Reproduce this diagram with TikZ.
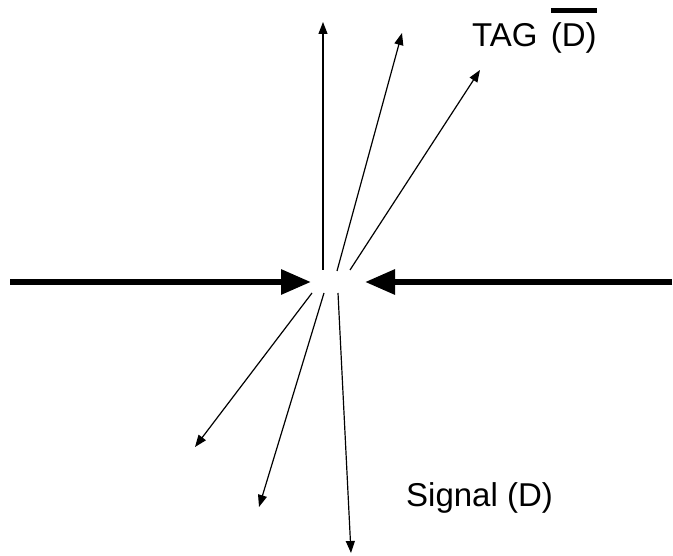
\documentclass[tikz,border=0pt]{standalone}
\usepackage{fontspec}
\setmainfont{Liberation Sans}
\usepackage{tikz}
\usetikzlibrary{arrows.meta, positioning}
\newcommand{\negbar}[1]{\setbox0\hbox{#1}\rlap{\raisebox{1.03em}{\rule{\wd0}{0.15em}}}\box0}

\begin{document}
\begin{tikzpicture}[
  x=1pt, y=-1pt,
  beam/.style={-{Triangle[length=30pt, width=24pt]}, line width=6pt, black},
  ray/.style={-{Triangle[length=12pt, width=9pt]}, line width=1.2pt, black},
  lbl/.style={font=\fontsize{33}{40}\selectfont, inner sep=0pt, anchor=base west},
]
  \useasboundingbox (0,0) rectangle (673,556);

  % incoming beams
  \coordinate (inl) at (10,282);
  \coordinate (inr) at (672,282);
  \coordinate (hitl) at (311,282);
  \coordinate (hitr) at (365,282);
  \draw[beam] (inl) -- (hitl);
  \draw[beam] (inr) -- (hitr);

  % tag photons (upwards)
  \coordinate (u1s) at (323,270);  \coordinate (u1e) at (323,22);
  \coordinate (u2s) at (337,271);  \coordinate (u2e) at (402,33);
  \coordinate (u3s) at (350,270);  \coordinate (u3e) at (480,70);
  \draw[ray] (u1s) -- (u1e);
  \draw[ray] (u2s) -- (u2e);
  \draw[ray] (u3s) -- (u3e);

  % signal photons (downwards)
  \coordinate (d1s) at (312,293);  \coordinate (d1e) at (195,447);
  \coordinate (d2s) at (324,293);  \coordinate (d2e) at (259,507);
  \coordinate (d3s) at (338,293);  \coordinate (d3e) at (351,553);
  \draw[ray] (d1s) -- (d1e);
  \draw[ray] (d2s) -- (d2e);
  \draw[ray] (d3s) -- (d3e);

  \node[lbl] (tag) at (472,47) {TAG\hspace{0.4em}\negbar{(D)}};
  \node[lbl] (sig) at (406,506) {Signal (D)};
\end{tikzpicture}
\end{document}
